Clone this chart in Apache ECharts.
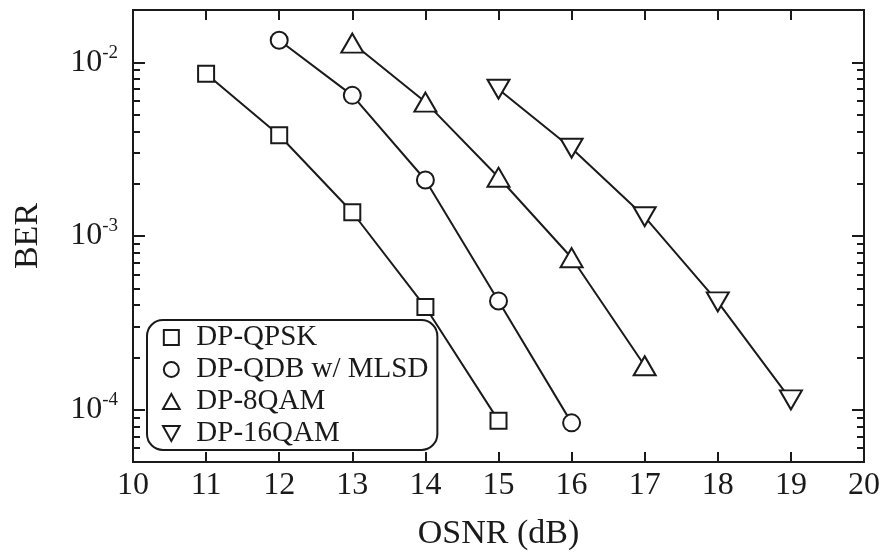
<!DOCTYPE html>
<html>
<head>
<meta charset="utf-8">
<script src="https://cdn.jsdelivr.net/npm/echarts@6/dist/echarts.min.js"></script>
<style>
html,body{margin:0;padding:0;background:#fff;}
#chart{width:890px;height:555px;}
</style>
</head>
<body>
<div id="chart"></div>
<script>
// ---- data ----
var qpskX = [11, 12, 13, 14, 15];
var qpskBER = [8.6e-3, 3.8e-3, 1.37e-3, 3.9e-4, 8.65e-5];
var qdbX = [12, 13, 14, 15, 16];
var qdbBER = [1.34e-2, 6.45e-3, 2.1e-3, 4.23e-4, 8.4e-5];
var qam8X = [13, 14, 15, 16, 17];
var qam8BER = [1.29e-2, 5.9e-3, 2.18e-3, 7.5e-4, 1.79e-4];
var qam16X = [15, 16, 17, 18, 19];
var qam16BER = [7.0e-3, 3.2e-3, 1.29e-3, 4.18e-4, 1.14e-4];
var seriesNames = ['DP-QPSK', 'DP-QDB w/ MLSD', 'DP-8QAM', 'DP-16QAM'];
var majorTicks = [1e-4, 1e-3, 1e-2];
var minorTicks = [6e-5, 7e-5, 8e-5, 9e-5,
  2e-4, 3e-4, 4e-4, 5e-4, 6e-4, 7e-4, 8e-4, 9e-4,
  2e-3, 3e-3, 4e-3, 5e-3, 6e-3, 7e-3, 8e-3, 9e-3];

var FONT = 'Liberation Serif';
var INK = '#1a1a1a';

function pairs(xs, ys) { return xs.map(function (x, i) { return [x, ys[i]]; }); }

var yMin = 5e-5, yMax = 2e-2;

function yAxisBase(pos, ticks, len, labels) {
  return {
    type: 'log', logBase: 10, min: yMin, max: yMax, position: pos,
    axisLine: { show: true, lineStyle: { color: INK, width: 2 } },
    axisTick: { show: true, inside: true, length: len, customValues: ticks, lineStyle: { color: INK, width: 2 } },
    axisLabel: labels ? {
      show: true, customValues: majorTicks, margin: 15,
      formatter: function (v) {
        var e = Math.round(Math.log10(v));
        return '{b|10}{s|' + e + '}';
      },
      rich: {
        b: { fontSize: 32, fontFamily: FONT, color: INK, lineHeight: 38 },
        s: { fontSize: 19, fontFamily: FONT, color: INK, lineHeight: 19, verticalAlign: 'top' }
      }
    } : { show: false },
    splitLine: { show: false },
    minorTick: { show: false }
  };
}

var yAxes = [
  yAxisBase('left', majorTicks, 12, true),
  yAxisBase('left', minorTicks, 7, false),
  yAxisBase('right', majorTicks, 12, false),
  yAxisBase('right', minorTicks, 7, false)
];
yAxes[0].name = 'BER';
yAxes[0].nameLocation = 'middle';
yAxes[0].nameGap = 88;
yAxes[0].nameTextStyle = { fontSize: 34, fontFamily: FONT, color: INK };

function xAxisBase(pos, labels) {
  return {
    type: 'value', min: 10, max: 20, interval: 1, position: pos,
    axisLine: { show: true, lineStyle: { color: INK, width: 2 } },
    axisTick: { show: true, inside: true, length: 10, lineStyle: { color: INK, width: 2 } },
    axisLabel: labels ? { show: true, fontSize: 32, fontFamily: FONT, color: INK, margin: 8 } : { show: false },
    splitLine: { show: false }
  };
}
var xAxes = [xAxisBase('bottom', true), xAxisBase('top', false)];
xAxes[0].name = 'OSNR (dB)';
xAxes[0].nameLocation = 'middle';
xAxes[0].nameGap = 55;
xAxes[0].nameTextStyle = { fontSize: 34, fontFamily: FONT, color: INK };

var symbols = ['rect', 'circle', 'triangle', 'path://M0,0L10,0L5,9Z'];
var sizes = [16, 17, [22, 19], [22, 19]];
var legendIcons = ['path://M0,0H10V10H0Z', 'path://M5,0A5,5 0 1,1 5,10A5,5 0 1,1 5,0Z',
  'path://M5,0L10,9L0,9Z', 'path://M0,0L10,0L5,9Z'];
var dataSets = [pairs(qpskX, qpskBER), pairs(qdbX, qdbBER), pairs(qam8X, qam8BER), pairs(qam16X, qam16BER)];

var series = dataSets.map(function (d, i) {
  return {
    name: seriesNames[i], type: 'line', data: d,
    xAxisIndex: 0, yAxisIndex: 0,
    symbol: symbols[i], symbolSize: sizes[i], showAllSymbol: true,
    itemStyle: { color: '#fff', borderColor: INK, borderWidth: 2 },
    lineStyle: { color: INK, width: 2 },
    emphasis: { disabled: true },
    z: 3
  };
});

var chart = echarts.init(document.getElementById('chart'), null, { renderer: 'canvas' });
chart.setOption({
  animation: false,
  backgroundColor: '#fff',
  grid: { left: 133, right: 26, top: 10, bottom: 93, containLabel: false, outerBoundsMode: 'none' },
  xAxis: xAxes,
  yAxis: yAxes,
  legend: {
    orient: 'vertical', left: 147, top: 320,
    data: seriesNames.map(function (n, i) { return { name: n, icon: legendIcons[i] }; }),
    itemWidth: 40, itemHeight: 15, itemGap: 3, symbolKeepAspect: true,
    itemStyle: { color: '#fff', borderColor: INK, borderWidth: 2 },
    lineStyle: { width: 0 },
    textStyle: { fontSize: 29, fontFamily: FONT, color: INK, lineHeight: 29 },
    padding: [3, 9, 2, 15],
    borderColor: INK, borderWidth: 2, borderRadius: 16,
    backgroundColor: 'rgba(255,255,255,0)',
    selectedMode: false
  },
  series: series
});
</script>
</body>
</html>
